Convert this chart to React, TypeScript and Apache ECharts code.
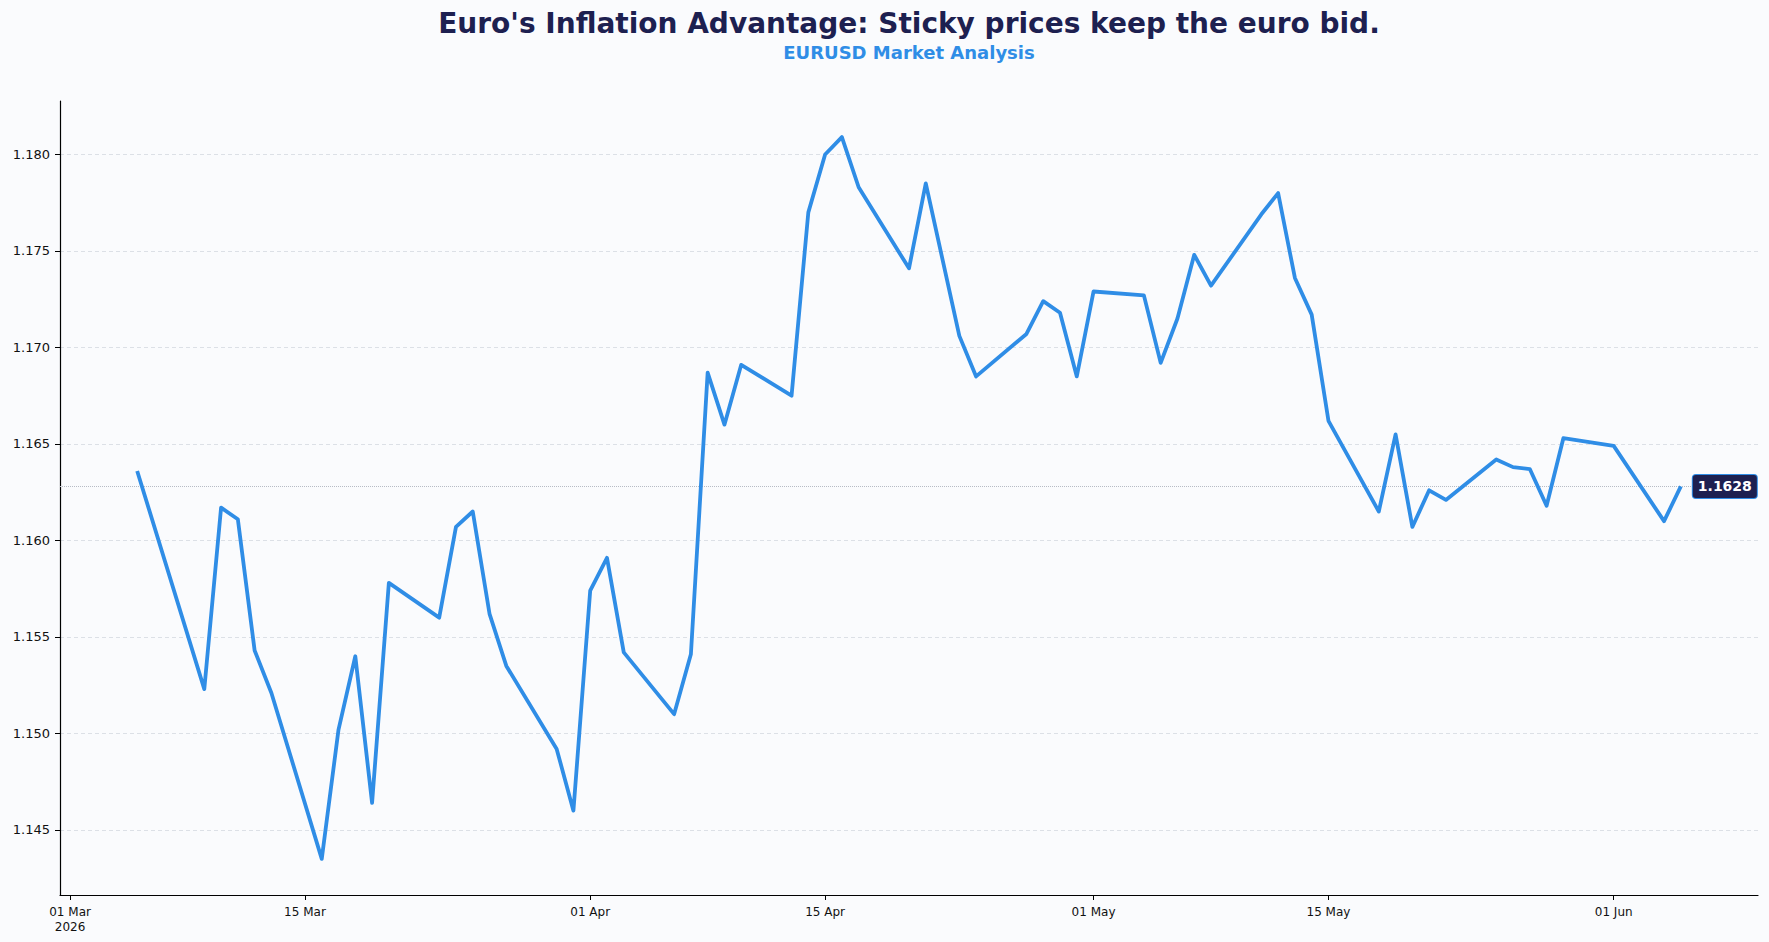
import { useEffect, useRef } from "react";
import * as echarts from "echarts";

// EURUSD daily closes (business days with a print)
const dates = [
  "2026-03-05", "2026-03-09", "2026-03-10", "2026-03-11", "2026-03-12", "2026-03-13",
  "2026-03-16", "2026-03-17", "2026-03-18", "2026-03-19", "2026-03-20",
  "2026-03-23", "2026-03-24", "2026-03-25", "2026-03-26", "2026-03-27",
  "2026-03-30", "2026-03-31", "2026-04-01", "2026-04-02", "2026-04-03",
  "2026-04-06", "2026-04-07", "2026-04-08", "2026-04-09", "2026-04-10",
  "2026-04-13", "2026-04-14", "2026-04-15", "2026-04-16", "2026-04-17",
  "2026-04-20", "2026-04-21", "2026-04-23", "2026-04-24",
  "2026-04-27", "2026-04-28", "2026-04-29", "2026-04-30", "2026-05-01",
  "2026-05-04", "2026-05-05", "2026-05-06", "2026-05-07", "2026-05-08",
  "2026-05-11", "2026-05-12", "2026-05-13", "2026-05-14", "2026-05-15",
  "2026-05-18", "2026-05-19", "2026-05-20", "2026-05-21", "2026-05-22",
  "2026-05-25", "2026-05-26", "2026-05-27", "2026-05-28", "2026-05-29",
  "2026-06-01", "2026-06-04", "2026-06-05",
];

const rates = [
  1.1636, 1.1523, 1.1617, 1.1611, 1.1543, 1.1521,
  1.1435, 1.1502, 1.154, 1.1464, 1.1578,
  1.156, 1.1607, 1.1615, 1.1562, 1.1535,
  1.1492, 1.146, 1.1574, 1.1591, 1.1542,
  1.151, 1.1541, 1.1687, 1.166, 1.1691,
  1.1675, 1.177, 1.18, 1.1809, 1.1783,
  1.1741, 1.1785, 1.1706, 1.1685,
  1.1707, 1.1724, 1.1718, 1.1685, 1.1729,
  1.1727, 1.1692, 1.1715, 1.1748, 1.1732,
  1.1769, 1.178, 1.1736, 1.1717, 1.1662,
  1.1615, 1.1655, 1.1607, 1.1626, 1.1621,
  1.1642, 1.1638, 1.1637, 1.1618, 1.1653,
  1.1649, 1.161, 1.1628,
];

const yTicks = [1.145, 1.15, 1.155, 1.16, 1.165, 1.17, 1.175, 1.18];
const xTickDates = [
  "2026-03-01", "2026-03-15", "2026-04-01", "2026-04-15",
  "2026-05-01", "2026-05-15", "2026-06-01",
];

const MONTHS = ["Jan", "Feb", "Mar", "Apr", "May", "Jun", "Jul", "Aug", "Sep", "Oct", "Nov", "Dec"];
const toTs = (d: string) => Date.parse(d + "T00:00:00Z");

const LINE = "#2f8de6";
const NAVY = "#1d2050";

const GRID = { left: 60, right: 11, top: 101, bottom: 47 };
const WIDTH = 1769;
const HEIGHT = 942;

export default function App() {
  const ref = useRef<HTMLDivElement>(null);

  useEffect(() => {
    if (!ref.current) return;
    const chart = echarts.init(ref.current, null, { renderer: "svg" });

    const xs = dates.map(toTs);
    const x0 = xs[0];
    const x1 = xs[xs.length - 1];
    const xPad = (x1 - x0) * 0.05;
    const lo = Math.min(...rates);
    const hi = Math.max(...rates);
    const yPad = (hi - lo) * 0.05;
    const last = rates[rates.length - 1];
    const firstTick = toTs(xTickDates[0]);
    // headings are centred over the plotting area
    const centerX = GRID.left + (WIDTH - GRID.left - GRID.right) / 2;

    chart.setOption({
      animation: false,
      backgroundColor: "#fafbfd",
      textStyle: { fontFamily: "DejaVu Sans" },
      graphic: [
        {
          type: "text",
          x: centerX,
          y: 23,
          style: {
            text: "Euro's Inflation Advantage: Sticky prices keep the euro bid.",
            align: "center",
            verticalAlign: "middle",
            fontSize: 28,
            fontWeight: "bold",
            fontFamily: "DejaVu Sans",
            fill: NAVY,
          },
        },
        {
          type: "text",
          x: centerX,
          y: 52,
          style: {
            text: "EURUSD Market Analysis",
            align: "center",
            verticalAlign: "middle",
            fontSize: 18,
            fontWeight: "bold",
            fontFamily: "DejaVu Sans",
            fill: LINE,
          },
        },
      ],
      grid: GRID,
      xAxis: {
        type: "value",
        min: x0 - xPad,
        max: x1 + xPad,
        axisLine: { show: true, onZero: false, lineStyle: { color: "#000", width: 1.2 } },
        axisTick: {
          show: true,
          length: 5,
          customValues: xTickDates.map(toTs),
          lineStyle: { color: "#000", width: 1 },
        },
        axisLabel: {
          customValues: xTickDates.map(toTs),
          color: "#111",
          fontSize: 12,
          margin: 9,
          lineHeight: 15,
          formatter: (v: number) => {
            const d = new Date(v);
            const dd = String(d.getUTCDate()).padStart(2, "0");
            const label = `${dd} ${MONTHS[d.getUTCMonth()]}`;
            return Math.abs(v - firstTick) < 1000 ? `${label}\n${d.getUTCFullYear()}` : label;
          },
        },
        splitLine: { show: false },
      },
      yAxis: {
        type: "value",
        min: lo - yPad,
        max: hi + yPad,
        axisLine: { show: true, lineStyle: { color: "#000", width: 1.2 } },
        axisTick: {
          show: true,
          length: 5,
          customValues: yTicks,
          lineStyle: { color: "#000", width: 1 },
        },
        axisLabel: {
          customValues: yTicks,
          color: "#111",
          fontSize: 13,
          margin: 10,
          formatter: (v: number) => v.toFixed(3),
        },
        splitLine: {
          show: true,
          lineStyle: { color: "#d8dce3", type: [4, 3], width: 0.9 },
        },
      },
      series: [
        {
          type: "line",
          data: xs.map((t, i) => [t, rates[i]]),
          showSymbol: false,
          symbol: "none",
          lineStyle: { color: LINE, width: 3.8, join: "round" },
          endLabel: {
            show: true,
            distance: 12,
            formatter: () => last.toFixed(4),
            color: "#fff",
            fontWeight: "bold",
            fontSize: 14,
            fontFamily: "DejaVu Sans",
            backgroundColor: NAVY,
            borderColor: LINE,
            borderWidth: 1,
            borderRadius: 3,
            padding: [5, 5, 4, 5],
          },
          markLine: {
            silent: true,
            symbol: "none",
            precision: 4,
            z: 1,
            label: { show: false },
            lineStyle: { color: "#b7bcc5", type: "dotted", width: 1 },
            data: [{ yAxis: last }],
          },
          z: 3,
        },
      ],
    });

    return () => chart.dispose();
  }, []);

  return (
    <div
      ref={ref}
      style={{ position: "fixed", left: 0, top: 0, width: WIDTH, height: HEIGHT }}
    />
  );
}
